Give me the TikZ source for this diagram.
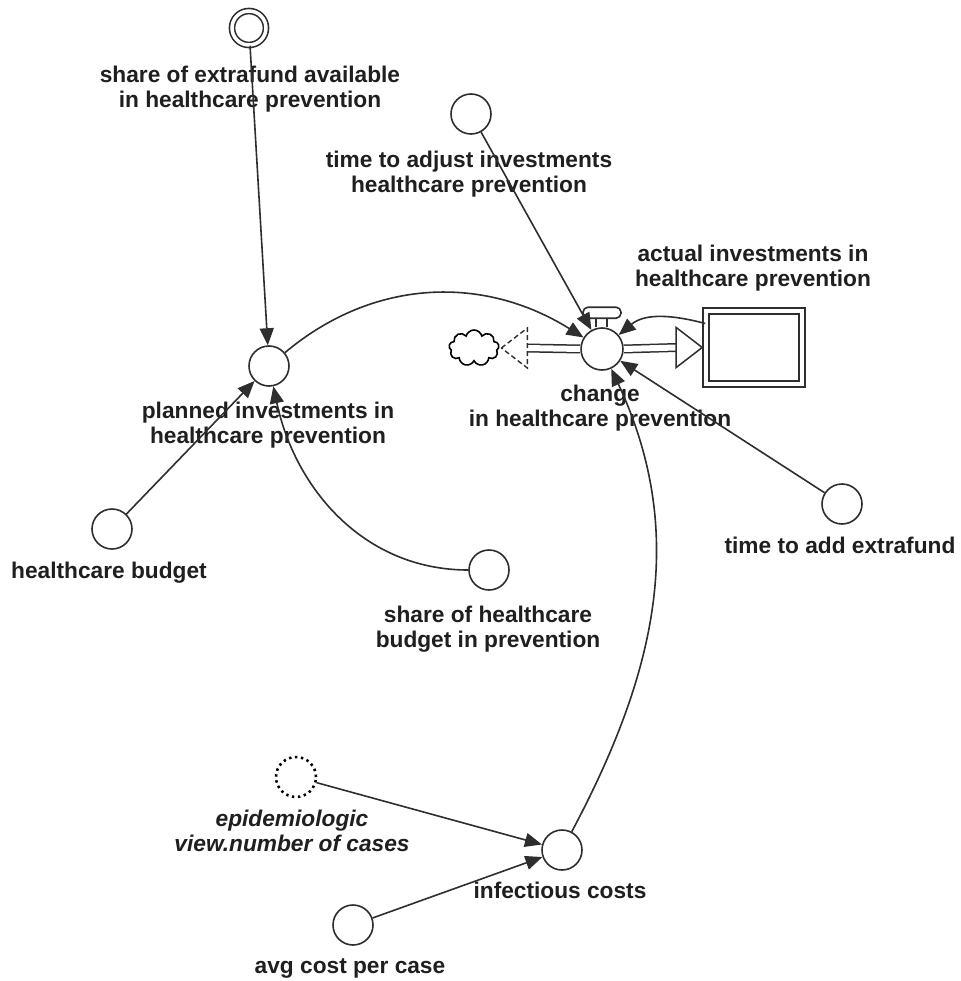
\documentclass[tikz,border=0pt]{standalone}
\usepackage{fontspec}
\setmainfont{Liberation Sans}
\usepackage{tikz}
\usetikzlibrary{arrows.meta,shapes.symbols,calc}

\definecolor{ink}{HTML}{2E2E2E}

\tikzset{
  aux/.style={circle, draw=ink, line width=1.6pt, fill=white, minimum size=40pt, inner sep=0pt},
  lbl/.style={font=\fontsize{22.7}{25}\selectfont\bfseries, align=center, inner sep=0pt, text=black!88, anchor=base},
  link/.style={draw=ink, line width=1.6pt, -{Triangle[length=17pt,width=14pt]}},
  pipe/.style={draw=ink, line width=1.5pt, double=white, double distance=6pt}
}

\begin{document}
\begin{tikzpicture}[x=1pt, y=1pt]

\useasboundingbox[fill=white] (0,0) rectangle (960,-981);

\node[aux, double, double distance=3.5pt, minimum size=34pt] (extra) at (249,-28) {};
\node[lbl] (extra-t) at (250,-108) {share of extrafund available\\in healthcare prevention};

\node[aux] (tadj) at (471,-114) {};
\node[lbl] (tadj-t) at (469,-193) {time to adjust investments\\healthcare prevention};

\node[aux] (planned) at (269,-366) {};
\node[lbl] (planned-t) at (268,-443) {planned investments in\\healthcare prevention};

\node[aux] (budget) at (112,-529) {};
\node[lbl] (budget-t) at (109,-578) {healthcare budget};

\node[aux] (share) at (489,-570) {};
\node[lbl] (share-t) at (488,-647) {share of healthcare\\budget in prevention};

\node[aux] (tadd) at (842,-504) {};
\node[lbl] (tadd-t) at (840,-553) {time to add extrafund};

\node[aux, draw=black, dash pattern=on 2.4pt off 3.6pt, line width=2.6pt] (epi) at (296,-777) {};
\node[lbl, font=\fontsize{22.7}{25}\selectfont\bfseries\itshape] (epi-t) at (292,-851) {epidemiologic\\view.number of cases};

\node[aux] (infect) at (562,-850) {};
\node[lbl] (infect-t) at (560,-898) {infectious costs};

\node[aux] (avg) at (353,-925) {};
\node[lbl] (avg-t) at (350,-973) {avg cost per case};

% stock and flow
\node[draw=ink, line width=1.6pt, double, double distance=4.5pt, minimum width=96pt, minimum height=73pt, inner sep=0pt] (stock) at (754,-347.5) {};
\node[lbl] (stock-t) at (753,-287) {actual investments in\\healthcare prevention};

\node[cloud, cloud puffs=9, aspect=1.4, draw=black, line width=1.6pt, minimum width=50pt, minimum height=36pt, inner sep=0pt] (src) at (474,-348) {};

\node[aux, minimum size=42pt] (valve) at (602,-349) {};
\node[lbl] (valve-t) at (600,-426) {change\\in healthcare prevention};

\draw[pipe] (valve.west) -- ($(src.east)+(27,0)$);
\draw[pipe] (valve.east) -- ($(stock.west)+(-29,0)$);
\draw[ink, line width=1.4pt, dash pattern=on 5pt off 3pt, fill=white]
  ($(src.east)+(2,0)$) -- ($(src.east)+(28,20)$) -- ($(src.east)+(28,-20)$) -- cycle;
\draw[ink, line width=1.5pt, fill=white]
  ($(stock.west)+(-3,0)$) -- ($(stock.west)+(-29,20)$) -- ($(stock.west)+(-29,-20)$) -- cycle;
\draw[ink, line width=1.5pt] ([xshift=-6pt]valve.north) -- ++(0,9) ([xshift=5pt]valve.north) -- ++(0,9);
\draw[ink, line width=1.6pt, fill=white, rounded corners=5pt] ($(valve.north)+(-19,9)$) rectangle ($(valve.north)+(19,20)$);

% links
\draw[link] (extra) -- (planned);
\draw[link] (budget) -- (planned);
\draw[link] (share) to[out=180,in=-78] (planned);
\draw[link] (planned) to[out=40,in=148] (valve);
\draw[link] (tadj) -- (valve);
\draw[link] ([yshift=24pt]stock.west) to[out=165,in=40] (valve);
\draw[link] (tadd) -- (valve);
\draw[link] (infect) to[out=62,in=-65] (valve);
\draw[link] (epi) -- (infect);
\draw[link] (avg) -- (infect);

\end{tikzpicture}
\end{document}
